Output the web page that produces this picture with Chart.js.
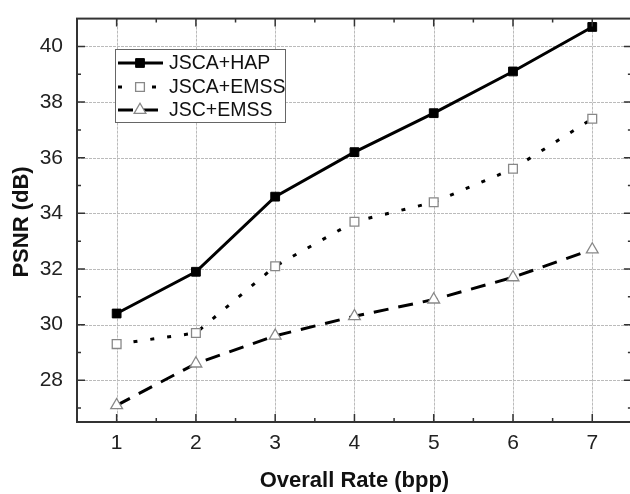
<!DOCTYPE html>
<html>
<head>
<meta charset="utf-8">
<script src="https://cdn.jsdelivr.net/npm/chart.js@4.4.0/dist/chart.umd.min.js"></script>
<style>
  html, body { margin: 0; padding: 0; background: #fff; overflow: hidden; }
  #wrap { width: 640px; height: 494px; }
</style>
</head>
<body>
<div id="wrap"><canvas id="psnrChart"></canvas></div>
<script>
const rates = [1, 2, 3, 4, 5, 6, 7];
const jscaHap = [30.4, 31.9, 34.6, 36.2, 37.6, 39.1, 40.7];
const jscaEmss = [29.3, 29.7, 32.1, 33.7, 34.4, 35.6, 37.4];
const jscEmss = [27.1, 28.6, 29.6, 30.3, 30.9, 31.7, 32.7];
const xTicks = [1, 2, 3, 4, 5, 6, 7];
const yTicks = [28, 30, 32, 34, 36, 38, 40];

const FONT = "'Liberation Sans', Arial, sans-serif";

function points(values) {
  return rates.map((r, i) => ({ x: r, y: values[i] }));
}

function drawGrid(chart) {
  const { ctx, chartArea: a, scales: { x, y } } = chart;
  ctx.save();
  ctx.strokeStyle = "#bbbbbb";
  ctx.lineWidth = 1;
  ctx.setLineDash([3, 1]);
  ctx.beginPath();
  xTicks.forEach((v) => {
    const px = Math.round(x.getPixelForValue(v)) + 0.5;
    ctx.moveTo(px, a.top); ctx.lineTo(px, a.bottom);
  });
  yTicks.forEach((v) => {
    const py = Math.round(y.getPixelForValue(v)) + 0.5;
    ctx.moveTo(a.left, py); ctx.lineTo(a.right, py);
  });
  ctx.stroke();
  ctx.restore();
}

// dotted grid, frame with inward ticks, axis titles and the boxed legend
const framePlugin = {
  id: "frame",
  beforeDatasetsDraw(chart) {
    drawGrid(chart);
  },
  afterDraw(chart) {
    const { ctx, chartArea: a, scales: { x, y } } = chart;
    ctx.save();
    ctx.strokeStyle = "#333";
    ctx.lineWidth = 2;
    ctx.strokeRect(a.left, a.top, a.right - a.left, a.bottom - a.top);

    ctx.lineWidth = 1.5;
    ctx.beginPath();
    for (let v = 0.5; v <= 7.5; v += 0.5) {
      const px = x.getPixelForValue(v);
      const len = Number.isInteger(v) ? 8 : 4;
      ctx.moveTo(px, a.bottom); ctx.lineTo(px, a.bottom - len);
      ctx.moveTo(px, a.top); ctx.lineTo(px, a.top + len);
    }
    for (let v = 27; v <= 40; v += 1) {
      const py = y.getPixelForValue(v);
      const len = v % 2 === 0 ? 8 : 4;
      ctx.moveTo(a.left, py); ctx.lineTo(a.left + len, py);
      ctx.moveTo(a.right, py); ctx.lineTo(a.right - len, py);
    }
    ctx.stroke();

    // axis titles
    ctx.fillStyle = "#111";
    ctx.font = "bold 22px " + FONT;
    ctx.textAlign = "center";
    ctx.textBaseline = "middle";
    ctx.fillText("Overall Rate (bpp)", (a.left + a.right) / 2, 481);
    ctx.save();
    ctx.translate(22, 222);
    ctx.rotate(-Math.PI / 2);
    ctx.fillText("PSNR (dB)", 0, 0);
    ctx.restore();

    // legend
    const box = { left: 115, top: 49, right: 285, bottom: 122 };
    ctx.fillStyle = "#fff";
    ctx.fillRect(box.left, box.top, box.right - box.left, box.bottom - box.top);
    ctx.strokeStyle = "#666";
    ctx.lineWidth = 1;
    ctx.strokeRect(box.left + 0.5, box.top + 0.5, box.right - box.left, box.bottom - box.top);
    const rows = [63, 87, 110];
    chart.data.datasets.forEach((ds, i) => {
      const ry = rows[i];
      ctx.strokeStyle = ds.borderColor;
      ctx.lineWidth = ds.borderWidth;
      ctx.setLineDash(ds.borderDash || []);
      ctx.beginPath();
      ctx.moveTo(118, ry);
      ctx.lineTo(163, ry);
      ctx.stroke();
      ctx.setLineDash([]);
      ctx.fillStyle = ds.pointBackgroundColor;
      ctx.strokeStyle = ds.pointBorderColor;
      ctx.lineWidth = ds.pointBorderWidth;
      Chart.helpers.drawPoint(ctx, {
        pointStyle: ds.pointStyle,
        radius: ds.pointRadius,
        borderWidth: ds.pointBorderWidth,
        rotation: 0,
      }, 140, ry);
      ctx.fillStyle = "#111";
      ctx.font = "19.5px " + FONT;
      ctx.textAlign = "left";
      ctx.textBaseline = "middle";
      ctx.fillText(ds.label, 169, ry + 1);
    });
    ctx.restore();
  },
};

new Chart(document.getElementById("psnrChart"), {
  type: "line",
  data: {
    datasets: [
      {
        label: "JSCA+HAP",
        data: points(jscaHap),
        borderColor: "#000",
        borderWidth: 3,
        pointStyle: "rect",
        pointRadius: 6.2,
        pointBackgroundColor: "#000",
        pointBorderColor: "#000",
        pointBorderWidth: 1,
      },
      {
        label: "JSCA+EMSS",
        data: points(jscaEmss),
        borderColor: "#000",
        borderWidth: 3,
        borderDash: [4, 13],
        pointStyle: "rect",
        pointRadius: 6.2,
        pointBackgroundColor: "#fff",
        pointBorderColor: "#888",
        pointBorderWidth: 1.3,
      },
      {
        label: "JSC+EMSS",
        data: points(jscEmss),
        borderColor: "#000",
        borderWidth: 3,
        borderDash: [15, 10],
        pointStyle: "triangle",
        pointRadius: 6.8,
        pointBackgroundColor: "#fff",
        pointBorderColor: "#888",
        pointBorderWidth: 1.3,
      },
    ],
  },
  options: {
    responsive: true,
    maintainAspectRatio: false,
    animation: false,
    layout: { padding: { top: 7, right: 3, left: 0, bottom: 0 } },
    plugins: {
      legend: { display: false },
      tooltip: { enabled: false },
    },
    scales: {
      x: {
        type: "linear",
        min: 0.5,
        max: 7.5,
        afterBuildTicks: (scale) => { scale.ticks = xTicks.map((v) => ({ value: v })); },
        afterFit: (scale) => { scale.height = 72; },
        ticks: { color: "#222", font: { family: FONT, size: 21 }, padding: 1 },
        grid: { display: false },
        border: { display: false },
      },
      y: {
        min: 26.5,
        max: 41,
        afterBuildTicks: (scale) => { scale.ticks = yTicks.map((v) => ({ value: v })); },
        afterFit: (scale) => { scale.width = 77; },
        ticks: { color: "#222", font: { family: FONT, size: 21 }, padding: 6 },
        grid: { display: false },
        border: { display: false },
      },
    },
  },
  plugins: [framePlugin],
});
</script>
</body>
</html>
